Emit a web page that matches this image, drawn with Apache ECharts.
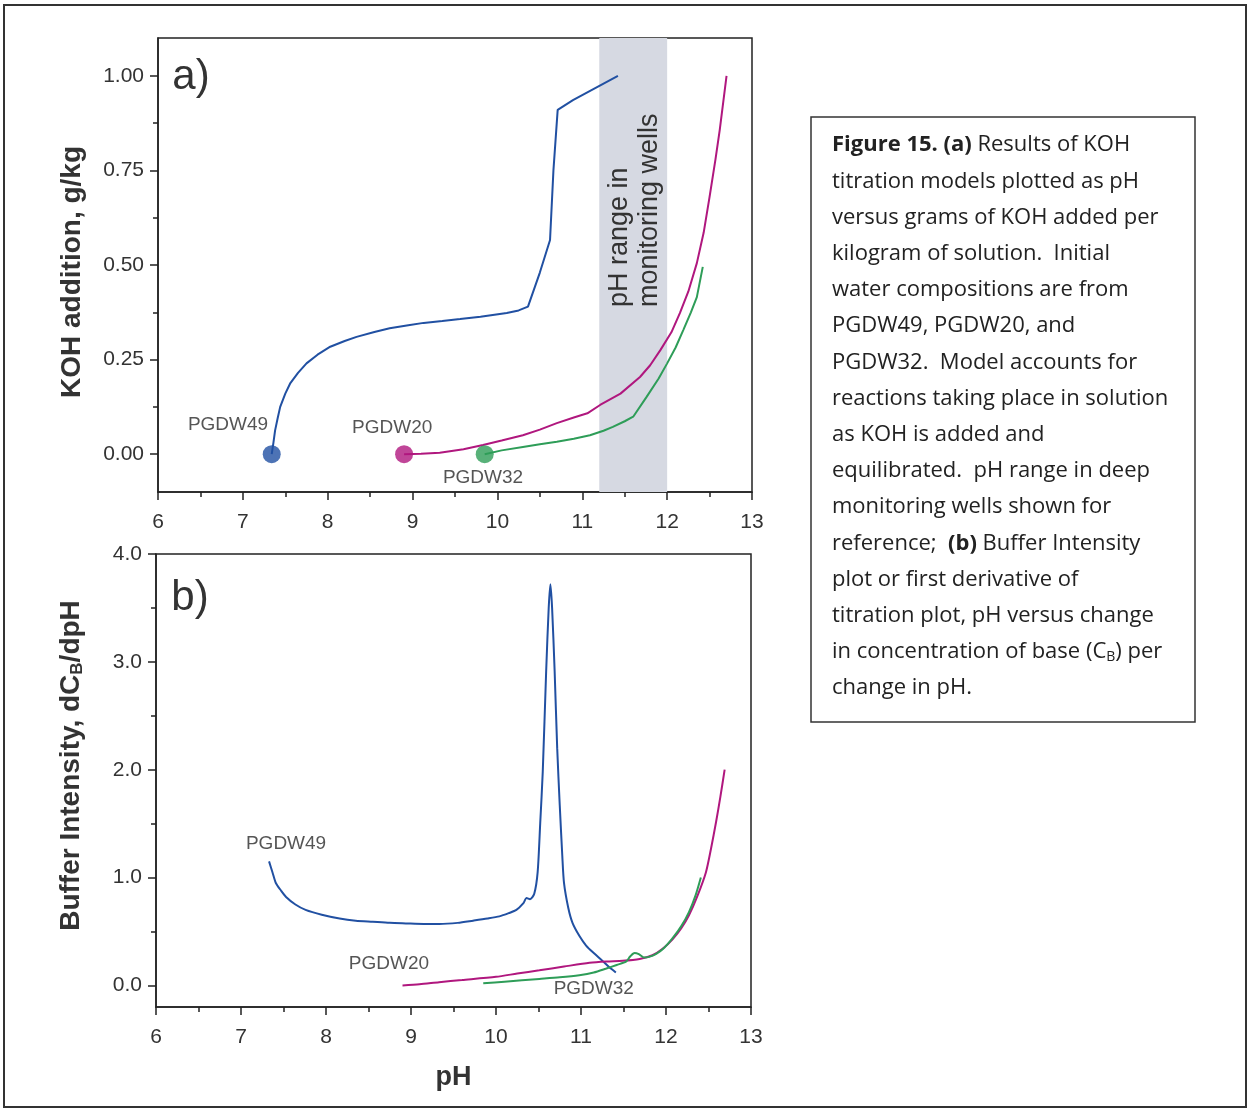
<!DOCTYPE html>
<html>
<head>
<meta charset="utf-8">
<script src="https://cdn.jsdelivr.net/npm/echarts@6/dist/echarts.min.js"></script>
<style>
html, body { margin: 0; padding: 0; background: #fff; }
#chart { width: 1249px; height: 1110px; }
</style>
</head>
<body>
<div id="chart"></div>
<script>
// ---- (a) KOH titration curves: pH vs g KOH per kg ----
var phA49  = [7.34, 7.36, 7.38, 7.41, 7.44, 7.50, 7.56, 7.65, 7.75, 7.88, 8.03, 8.20, 8.34, 8.55, 8.73, 8.95, 9.13, 9.35, 9.56, 9.80, 10.11, 10.25, 10.36, 10.50, 10.62, 10.66, 10.71, 10.89, 11.42];
var kohA49 = [0.000, 0.030, 0.063, 0.095, 0.125, 0.160, 0.188, 0.215, 0.240, 0.263, 0.284, 0.299, 0.310, 0.323, 0.333, 0.341, 0.347, 0.352, 0.357, 0.363, 0.373, 0.380, 0.390, 0.480, 0.566, 0.750, 0.910, 0.936, 1.000];
var phA20  = [8.90, 9.10, 9.32, 9.60, 9.83, 10.05, 10.30, 10.50, 10.70, 10.90, 11.06, 11.21, 11.45, 11.68, 11.80, 11.92, 12.05, 12.15, 12.25, 12.35, 12.43, 12.50, 12.57, 12.62, 12.70];
var kohA20 = [0.000, 0.001, 0.004, 0.013, 0.024, 0.036, 0.050, 0.065, 0.082, 0.097, 0.108, 0.130, 0.160, 0.204, 0.235, 0.275, 0.322, 0.373, 0.430, 0.505, 0.585, 0.680, 0.780, 0.857, 1.000];
var phA32  = [9.85, 10.05, 10.30, 10.50, 10.70, 10.90, 11.09, 11.25, 11.36, 11.50, 11.60, 11.76, 11.90, 12.00, 12.10, 12.19, 12.28, 12.35, 12.42];
var kohA32 = [0.000, 0.010, 0.019, 0.026, 0.033, 0.041, 0.050, 0.062, 0.072, 0.087, 0.099, 0.152, 0.200, 0.240, 0.282, 0.328, 0.375, 0.415, 0.495];
var wellBand = [11.2, 12.0];

// ---- (b) buffer intensity curves ----
var phB49 = [7.33, 7.37, 7.41, 7.47, 7.53, 7.64, 7.76, 7.95, 8.16, 8.35, 8.55, 8.75, 8.94, 9.15, 9.33, 9.55, 9.73, 9.90, 10.04, 10.15, 10.24, 10.32, 10.36, 10.40, 10.45, 10.49, 10.52, 10.55, 10.59, 10.62, 10.64, 10.66, 10.69, 10.72, 10.75, 10.78, 10.80, 10.85, 10.90, 10.98, 11.06, 11.15, 11.25, 11.33, 11.41];
var biB49 = [1.15, 1.05, 0.95, 0.88, 0.82, 0.75, 0.70, 0.655, 0.62, 0.60, 0.59, 0.58, 0.575, 0.57, 0.57, 0.58, 0.60, 0.62, 0.64, 0.67, 0.70, 0.76, 0.81, 0.80, 0.85, 1.05, 1.50, 1.98, 2.91, 3.50, 3.72, 3.50, 2.91, 2.20, 1.67, 1.20, 0.95, 0.72, 0.58, 0.46, 0.37, 0.30, 0.23, 0.17, 0.12];
var phB20 = [8.90, 9.10, 9.33, 9.60, 10.00, 10.25, 10.51, 10.80, 11.10, 11.30, 11.49, 11.69, 11.84, 11.96, 12.08, 12.18, 12.27, 12.37, 12.47, 12.53, 12.59, 12.64, 12.69];
var biB20 = [0.00, 0.01, 0.03, 0.05, 0.08, 0.11, 0.14, 0.175, 0.21, 0.222, 0.228, 0.245, 0.28, 0.34, 0.43, 0.53, 0.65, 0.83, 1.05, 1.27, 1.52, 1.75, 2.00];
var phB32 = [9.85, 10.10, 10.51, 10.75, 10.98, 11.15, 11.29, 11.42, 11.53, 11.58, 11.63, 11.68, 11.74, 11.80, 11.88, 11.98, 12.08, 12.18, 12.27, 12.35, 12.41];
var biB32 = [0.02, 0.035, 0.06, 0.075, 0.095, 0.12, 0.155, 0.19, 0.22, 0.27, 0.30, 0.29, 0.26, 0.265, 0.29, 0.35, 0.44, 0.55, 0.68, 0.84, 1.00];

// start points (initial water) and label anchors
var wells = ['PGDW49', 'PGDW20', 'PGDW32'];
var startPh = [7.34, 8.90, 9.85];
var notesA = [[6.825, 0.079], [8.76, 0.071], [9.83, -0.063]];
var notesB = [[7.53, 1.31], [8.74, 0.20], [11.15, -0.03]];

var yTicksA = [0, 0.25, 0.5, 0.75, 1.0];
var yMinorA = [0.125, 0.375, 0.625, 0.875];
var yTicksB = [0, 1, 2, 3, 4];
var yMinorB = [0.5, 1.5, 2.5, 3.5];

var colors = ['#2150a2', '#b0177e', '#2e9d58'];
var dark = '#222';
var tickFont = 'Liberation Sans, Arial, sans-serif';

function zip(a, b) {
    var out = [];
    for (var i = 0; i < a.length; i++) out.push([a[i], b[i]]);
    return out;
}

function xAx(grid, name) {
    return {
        type: 'value', gridIndex: grid, min: 6, max: 13, interval: 1,
        axisLine: { onZero: false, lineStyle: { color: dark, width: 1.5 } },
        axisTick: { length: 8, lineStyle: { color: dark, width: 1.5 } },
        minorTick: { show: true, splitNumber: 2, length: 5, lineStyle: { color: dark, width: 1.5 } },
        splitLine: { show: false },
        axisLabel: { margin: 20, fontSize: 21, color: '#333', fontFamily: tickFont },
        name: name, nameLocation: 'middle', nameGap: 57,
        nameTextStyle: { fontSize: 27, fontWeight: 'bold', color: '#333', fontFamily: tickFont }
    };
}

function yAx(grid, min, max, ticks, digits, name, gap, pad, rich) {
    return {
        type: 'value', gridIndex: grid, min: min, max: max,
        axisLine: { show: true, onZero: false, lineStyle: { color: dark, width: 1.5 } },
        axisTick: { show: true, length: 8, customValues: ticks, lineStyle: { color: dark, width: 1.5 } },
        splitLine: { show: false },
        axisLabel: {
            customValues: ticks, margin: 14, fontSize: 21, color: '#333', fontFamily: tickFont,
            formatter: function (v) { return v.toFixed(digits); }
        },
        name: name, nameLocation: 'middle', nameGap: gap,
        nameTextStyle: { fontSize: 28, fontWeight: 'bold', color: '#333', fontFamily: tickFont, padding: pad, rich: rich }
    };
}

function yMinor(grid, min, max, ticks) {
    return {
        type: 'value', gridIndex: grid, min: min, max: max, position: 'left',
        axisLine: { show: false, onZero: false },
        axisTick: { show: true, length: 5, customValues: ticks, lineStyle: { color: dark, width: 1.5 } },
        axisLabel: { show: false }, splitLine: { show: false }
    };
}

function curve(x, y, ph, val, c, smooth) {
    return {
        type: 'line', xAxisIndex: x, yAxisIndex: y, data: zip(ph, val),
        showSymbol: false, symbol: 'none', smooth: smooth, z: 3,
        lineStyle: { color: c, width: 2 }
    };
}

function notes(x, y, pts) {
    return {
        type: 'scatter', xAxisIndex: x, yAxisIndex: y, symbolSize: 0, silent: true, z: 4,
        data: pts.map(function (p, i) { return { name: wells[i], value: p }; }),
        label: {
            show: true, position: 'inside', formatter: '{b}',
            fontSize: 19, color: '#2a2a2a', fontFamily: tickFont
        }
    };
}

var captionLines = [
    '{b|Figure 15. (a)} Results of KOH',
    'titration models plotted as pH',
    'versus grams of KOH added per',
    'kilogram of solution.  Initial',
    'water compositions are from',
    'PGDW49, PGDW20, and',
    'PGDW32.  Model accounts for',
    'reactions taking place in solution',
    'as KOH is added and',
    'equilibrated.  pH range in deep',
    'monitoring wells shown for',
    'reference;  {b|(b)} Buffer Intensity',
    'plot or first derivative of',
    'titration plot, pH versus change',
    'in concentration of base (C{s|B}) per',
    'change in pH.'
];
var capFont = '"Open Sans", "Noto Sans", sans-serif';

var chart = echarts.init(document.getElementById('chart'));
chart.setOption({
    backgroundColor: '#fff',
    animation: false,
    grid: [
        { left: 158, top: 38, width: 594, height: 454, show: true, borderColor: dark, borderWidth: 1.5, backgroundColor: 'transparent' },
        { left: 156, top: 554, width: 595, height: 453, show: true, borderColor: dark, borderWidth: 1.5, backgroundColor: 'transparent' }
    ],
    xAxis: [xAx(0, ''), xAx(1, 'pH')],
    yAxis: [
        yAx(0, -0.1, 1.1, yTicksA, 2, 'KOH addition, g/kg', 72, [0, 14, 0, 0]),
        yMinor(0, -0.1, 1.1, yMinorA),
        yAx(1, -0.2, 4.0, yTicksB, 1, 'Buffer Intensity, dC{sub|B}/dpH', 70, [0, 0, 0, 30],
            { sub: { fontSize: 17, fontWeight: 'bold', color: '#333', fontFamily: tickFont, padding: [12, 0, 0, 0] } }),
        yMinor(1, -0.2, 4.0, yMinorB)
    ],
    series: [
        {
            type: 'line', xAxisIndex: 0, yAxisIndex: 0, data: [], z: 1,
            markArea: {
                silent: true, itemStyle: { color: '#d6d9e2' },
                data: [[{ xAxis: wellBand[0] }, { xAxis: wellBand[1] }]]
            }
        },
        curve(0, 0, phA49, kohA49, colors[0], false),
        curve(0, 0, phA20, kohA20, colors[1], false),
        curve(0, 0, phA32, kohA32, colors[2], false),
        {
            type: 'scatter', xAxisIndex: 0, yAxisIndex: 0, symbolSize: 18, z: 5,
            data: startPh.map(function (p, i) { return { value: [p, 0], itemStyle: { color: colors[i] } }; })
        },
        notes(0, 0, notesA),
        curve(1, 2, phB49, biB49, colors[0], 0.25),
        curve(1, 2, phB20, biB20, colors[1], 0.25),
        curve(1, 2, phB32, biB32, colors[2], 0.25),
        notes(1, 2, notesB)
    ],
    graphic: [
        { type: 'rect', shape: { x: 4, y: 5, width: 1242, height: 1102 }, style: { fill: 'none', stroke: '#333', lineWidth: 2 }, silent: true },
        { type: 'text', x: 191, y: 77, style: { text: 'a)', fontSize: 42, fontFamily: tickFont, fill: '#333', align: 'center', verticalAlign: 'middle' } },
        { type: 'text', x: 190, y: 598, style: { text: 'b)', fontSize: 42, fontFamily: tickFont, fill: '#333', align: 'center', verticalAlign: 'middle' } },
        {
            type: 'text', x: 635, y: 307, rotation: Math.PI / 2, z: 10,
            style: { text: 'pH range in\nmonitoring wells', fontSize: 27, lineHeight: 30, fontFamily: tickFont, fill: '#333', align: 'left', verticalAlign: 'middle' }
        },
        { type: 'rect', shape: { x: 811, y: 117, width: 384, height: 605 }, style: { fill: '#fff', stroke: '#333', lineWidth: 1.5 } },
        {
            type: 'text', x: 832, y: 127,
            style: {
                text: captionLines.join('\n'), fontSize: 22, lineHeight: 36.2, fontFamily: capFont, fill: '#222',
                rich: {
                    b: { fontSize: 22, fontWeight: 'bold', fontFamily: capFont, fill: '#222', lineHeight: 36.2 },
                    s: { fontSize: 14, fontFamily: capFont, fill: '#222', padding: [10, 0, 0, 0] }
                }
            }
        }
    ]
});
</script>
</body>
</html>
